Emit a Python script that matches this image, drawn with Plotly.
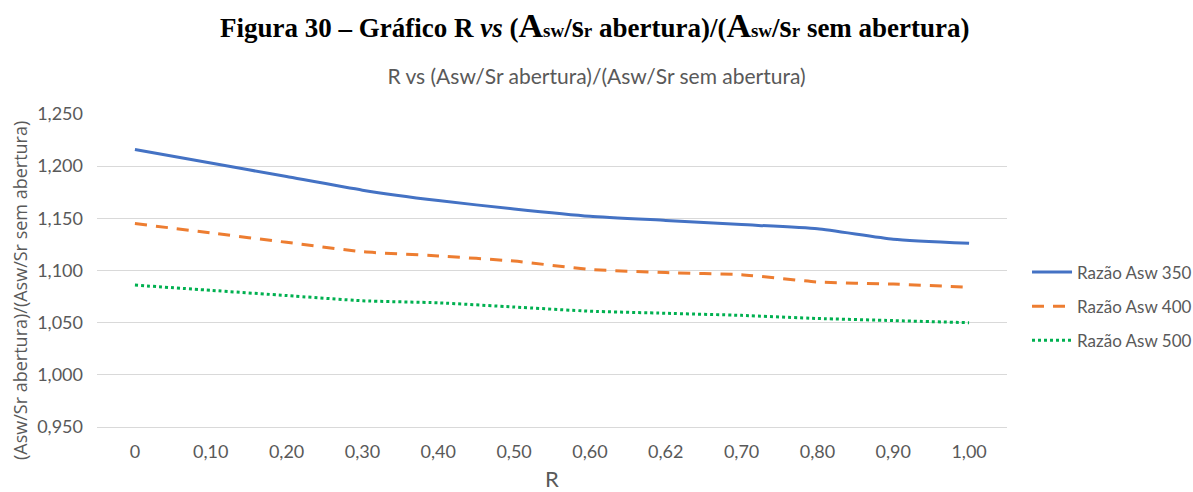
import plotly.graph_objects as go

categories = ["0", "0,10", "0,20", "0,30", "0,40", "0,50", "0,60", "0,62", "0,70", "0,80", "0,90", "1,00"]
asw350 = [1.216, 1.203, 1.190, 1.177, 1.167, 1.159, 1.152, 1.148, 1.144, 1.140, 1.130, 1.126]
asw400 = [1.145, 1.136, 1.127, 1.118, 1.114, 1.109, 1.101, 1.098, 1.096, 1.089, 1.087, 1.084]
asw500 = [1.086, 1.081, 1.076, 1.071, 1.069, 1.065, 1.061, 1.059, 1.057, 1.054, 1.052, 1.050]

series = [
    ("Razão Asw 350", asw350, "#4472C4", "solid"),
    ("Razão Asw 400", asw400, "#ED7D31", "12px,9px"),
    ("Razão Asw 500", asw500, "#00B050", "dot"),
]

gray = "#595959"
fig = go.Figure()
for name, vals, color, dash in series:
    fig.add_trace(go.Scatter(
        x=categories, y=vals, name=name, mode="lines",
        line=dict(color=color, width=3, dash=dash, shape="spline", smoothing=0.5),
        legendgroup=name,
    ))

fig.update_layout(
    width=1193, height=492,
    margin=dict(l=97, r=186, t=114, b=65, autoexpand=False),
    plot_bgcolor="white", paper_bgcolor="white",
    separators=",.",
    font=dict(family="Lato", color=gray, size=17),
    title=dict(text="R vs (Asw/Sr abertura)/(Asw/Sr sem abertura)",
               x=0.5, xref="container", xanchor="center",
               y=1 - 77 / 492, yref="container", yanchor="middle",
               font=dict(family="Lato", size=21, color=gray)),
    showlegend=True,
    legend=dict(x=1.022, y=0.385, xanchor="left", yanchor="middle",
                font=dict(size=17, color=gray), tracegroupgap=9,
                itemwidth=40, bgcolor="rgba(0,0,0,0)"),
    xaxis=dict(type="category", range=[-0.5, 11.5], showgrid=False, showline=True,
               linecolor="#D9D9D9", ticks="", tickfont=dict(size=18, color=gray),
               ticklabelstandoff=8,
               title=dict(text="R", font=dict(size=22, color=gray), standoff=17)),
    yaxis=dict(range=[0.95, 1.25], dtick=0.05, tickformat=".3f", showgrid=True,
               gridcolor="#D9D9D9", gridwidth=1, zeroline=False, showline=False,
               tickfont=dict(size=18, color=gray), ticks="", ticklen=0,
               ticklabelstandoff=13),
)

fig.add_annotation(
    text="(Asw/Sr abertura)/(Asw/Sr sem abertura)",
    xref="paper", yref="paper", x=(20 - 97) / 910, y=(427 - 291) / 313,
    xanchor="center", yanchor="middle", textangle=-90, showarrow=False,
    font=dict(family="Open Sans", size=18, color=gray),
)

A = '<span style="font-size:34px">A</span>'
sw = '<span style="font-size:19px">sw</span>'
s = '<span style="font-size:31px">s</span>'
r = '<span style="font-size:19px">r</span>'
fig.add_annotation(
    text=f"<b>Figura 30 – Gráfico R <i>vs</i> ({A}{sw}/{s}{r} abertura)/({A}{sw}/{s}{r} sem abertura)</b>",
    xref="paper", yref="paper", x=(595 - 97) / 910, y=1 + (114 - 26) / 313,
    xanchor="center", yanchor="middle", showarrow=False,
    font=dict(family="Liberation Serif", size=27, color="black"),
)

fig.write_html("out.html")
